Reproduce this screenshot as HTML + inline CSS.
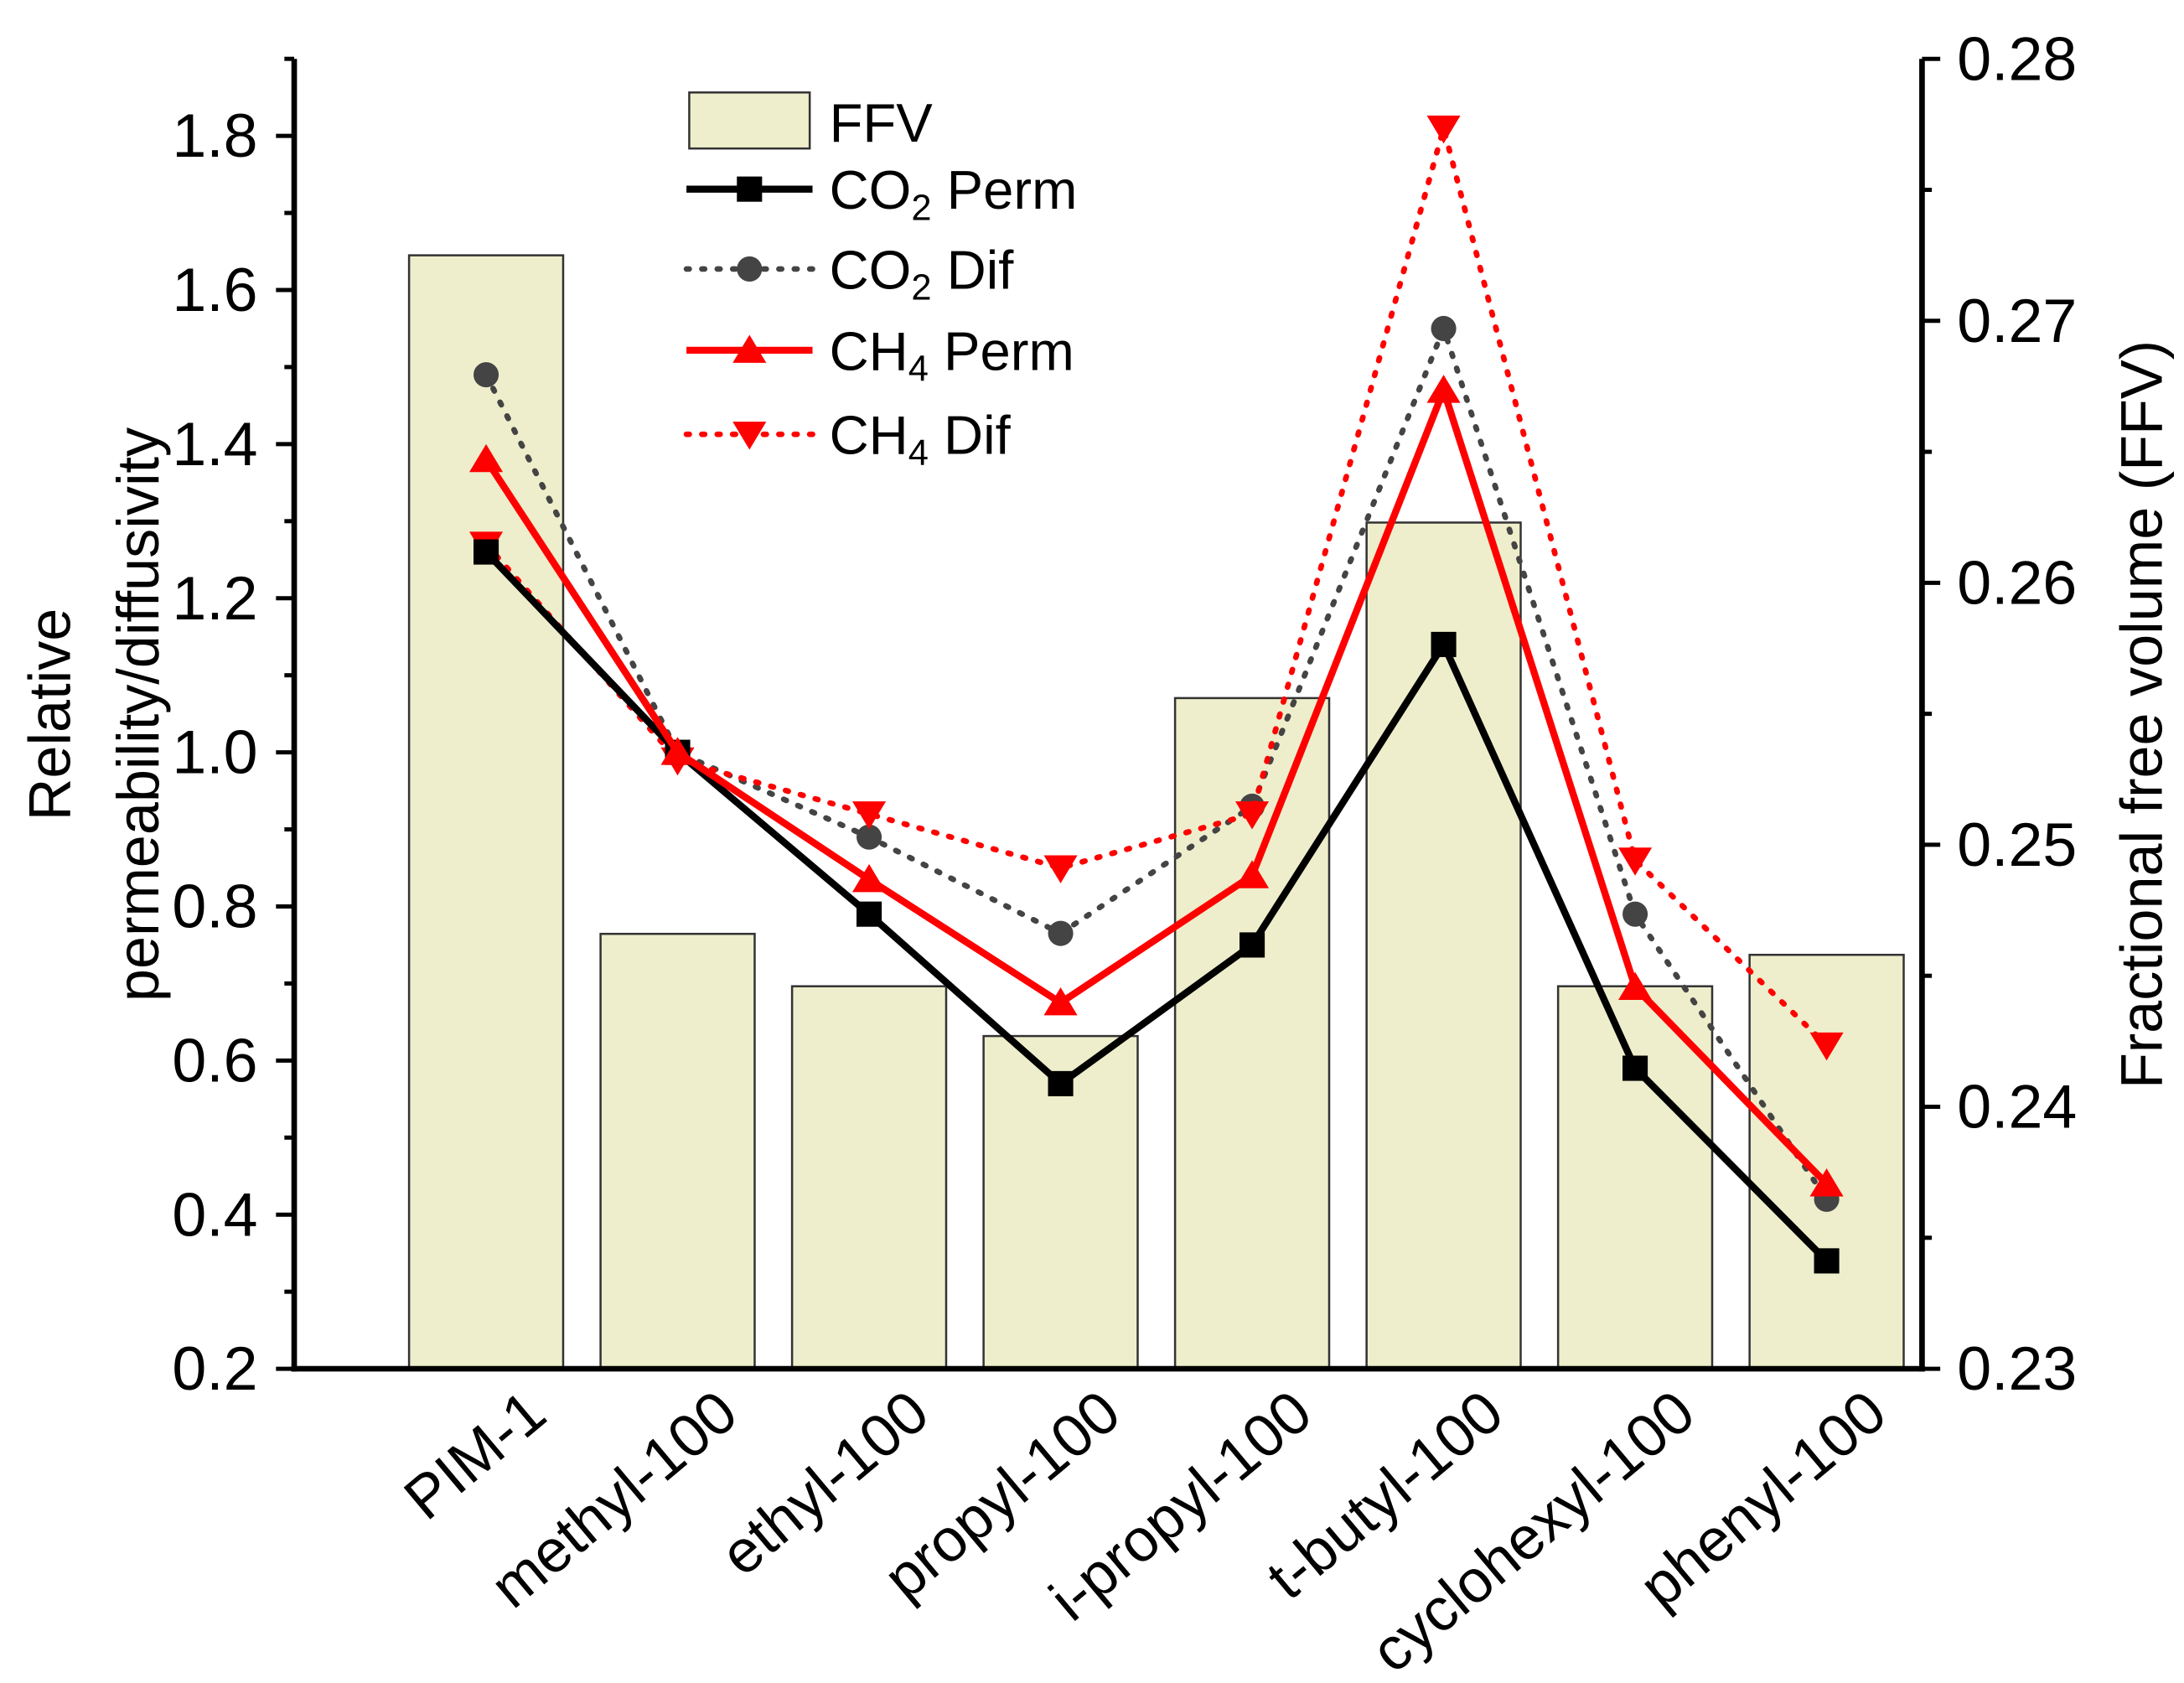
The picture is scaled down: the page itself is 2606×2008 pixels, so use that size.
<!DOCTYPE html>
<html><head><meta charset="utf-8"><style>
html,body{margin:0;padding:0;background:#fff}
svg{display:block}
text{font-family:"Liberation Sans",Arial,sans-serif;fill:#000}
</style></head><body>
<svg id="chart" width="2606" height="2008" viewBox="0 0 1559 1201.3" preserveAspectRatio="none" xmlns="http://www.w3.org/2000/svg">
<g id="bars"></g>
<g id="lines"></g>
<g id="axes"></g>
<g id="legend">
  <rect x="492" y="66" width="86" height="40" fill="#eeeecc" stroke="#333" stroke-width="1.5"/>
  <text x="592" y="101" font-size="39">FFV</text>
  <line x1="490" y1="135" x2="580" y2="135" stroke="#000" stroke-width="5"/>
  <rect x="526" y="126" width="18" height="18" fill="#000"/>
  <text x="592" y="149" font-size="39">CO<tspan font-size="26" dy="8">2</tspan><tspan dy="-8"> Perm</tspan></text>
  <line x1="490" y1="192" x2="580" y2="192" stroke="#444" stroke-width="4" stroke-dasharray="2,9" stroke-linecap="round"/>
  <circle cx="535" cy="192" r="9" fill="#444"/>
  <text x="592" y="206" font-size="39">CO<tspan font-size="26" dy="8">2</tspan><tspan dy="-8"> Dif</tspan></text>
  <line x1="490" y1="250" x2="580" y2="250" stroke="#f00" stroke-width="5"/>
  <polygon points="535,239 547,259 523,259" fill="#f00"/>
  <text x="592" y="264" font-size="39">CH<tspan font-size="26" dy="8">4</tspan><tspan dy="-8"> Perm</tspan></text>
  <line x1="490" y1="310" x2="580" y2="310" stroke="#f00" stroke-width="4" stroke-dasharray="2,9" stroke-linecap="round"/>
  <polygon points="535,321 547,301 523,301" fill="#f00"/>
  <text x="592" y="324" font-size="39">CH<tspan font-size="26" dy="8">4</tspan><tspan dy="-8"> Dif</tspan></text>
</g>
</svg>
<script>
const categories=["PIM-1","methyl-100","ethyl-100","propyl-100","i-propyl-100","t-butyl-100","cyclohexyl-100","phenyl-100"];
const ffv=[0.2725,0.2466,0.2446,0.2427,0.2556,0.2623,0.2446,0.2458];
const co2Perm=[1.26,1.0,0.79,0.57,0.75,1.14,0.59,0.34];
const co2Dif=[1.49,1.0,0.89,0.765,0.93,1.55,0.79,0.42];
const ch4Perm=[1.38,1.0,0.835,0.675,0.84,1.47,0.695,0.44];
const ch4Dif=[1.27,0.99,0.92,0.85,0.92,1.81,0.86,0.62];
const leftTicks=["0.2","0.4","0.6","0.8","1.0","1.2","1.4","1.6","1.8"];
const rightTicks=["0.23","0.24","0.25","0.26","0.27","0.28"];

const NS="http://www.w3.org/2000/svg";
const X0=210,X1=1372,YB=977,YT=42;
const yL=v=>YB-(v-0.2)/(1.9-0.2)*(YB-YT);
const yR=v=>YB-(v-0.23)/(0.28-0.23)*(YB-YT);
const xC=i=>347+i*136.7;
function mk(tag,attrs,parent){const e=document.createElementNS(NS,tag);for(const k in attrs)e.setAttribute(k,attrs[k]);parent.appendChild(e);return e;}
const gB=document.getElementById('bars'),gL=document.getElementById('lines'),gA=document.getElementById('axes');
ffv.forEach((v,i)=>{
  const r=mk('rect',{x:xC(i)-55,y:yR(v),width:110,height:YB-yR(v),fill:'#eeeecc',stroke:'#333','stroke-width':1.5},gB);
  
  
});
function series(vals,name,color,dotted,marker){
  const pts=vals.map((v,i)=>xC(i)+','+yL(v)).join(' ');
  const pl=mk('polyline',{points:pts,fill:'none',stroke:color,'stroke-width':dotted?4:5,'stroke-linejoin':'round'},gL);
  if(dotted){pl.setAttribute('stroke-dasharray','2,9');pl.setAttribute('stroke-linecap','round');}
  
  
  vals.forEach((v,i)=>{
    const x=xC(i),y=yL(v);let m;
    if(marker==='sq')m=mk('rect',{x:x-9,y:y-9,width:18,height:18,fill:color},gL);
    else if(marker==='c')m=mk('circle',{cx:x,cy:y,r:9,fill:color},gL);
    else if(marker==='up')m=mk('polygon',{points:`${x},${y-11} ${x+12},${y+9} ${x-12},${y+9}`,fill:color},gL);
    else m=mk('polygon',{points:`${x},${y+11} ${x+12},${y-9} ${x-12},${y-9}`,fill:color},gL);
    
    
  });
}
series(co2Dif,'co2-dif','#444',true,'c');
series(ch4Dif,'ch4-dif','#f00',true,'down');
series(co2Perm,'co2-perm','#000',false,'sq');
series(ch4Perm,'ch4-perm','#f00',false,'up');
// axes
mk('line',{x1:X0,y1:YT,x2:X0,y2:YB+2,stroke:'#000','stroke-width':4},gA);
mk('line',{x1:X1,y1:YT,x2:X1,y2:YB+2,stroke:'#000','stroke-width':4},gA);
mk('line',{x1:X0-2,y1:YB,x2:X1+2,y2:YB,stroke:'#000','stroke-width':4},gA);
for(let k=0;k<=17;k++){const v=0.2+k*0.1,y=yL(v);mk('line',{x1:X0,y1:y,x2:X0-(k%2?7:13),y2:y,stroke:'#000','stroke-width':3},gA);}
leftTicks.forEach(t=>{const e=mk('text',{x:184,y:yL(+t)+15,'font-size':44,'text-anchor':'end'},gA);e.textContent=t;
  
  });
for(let k=0;k<=10;k++){const v=0.23+k*0.005,y=yR(v);mk('line',{x1:X1,y1:y,x2:X1+(k%2?7:13),y2:y,stroke:'#000','stroke-width':3},gA);}
rightTicks.forEach(t=>{const e=mk('text',{x:1397,y:yR(+t)+15,'font-size':44},gA);e.textContent=t;
  
  });
categories.forEach((c,i)=>{const x=xC(i)+26,y=990;const e=mk('text',{x:x,y:y+30,'font-size':43,'text-anchor':'end',transform:`rotate(-40 ${x} ${y})`},gA);e.textContent=c;
  
  });
let t=mk('text',{x:0,y:0,'font-size':42,'text-anchor':'middle',transform:'translate(50 510) rotate(-90)'},gA);t.textContent='Relative';


t=mk('text',{x:0,y:0,'font-size':42,'text-anchor':'middle',transform:'translate(113 510) rotate(-90)'},gA);t.textContent='permeability/diffusivity';


t=mk('text',{x:0,y:0,'font-size':42,'text-anchor':'middle',transform:'translate(1543 510) rotate(-90)'},gA);t.textContent='Fractional free volume (FFV)';


</script>
</body></html>
